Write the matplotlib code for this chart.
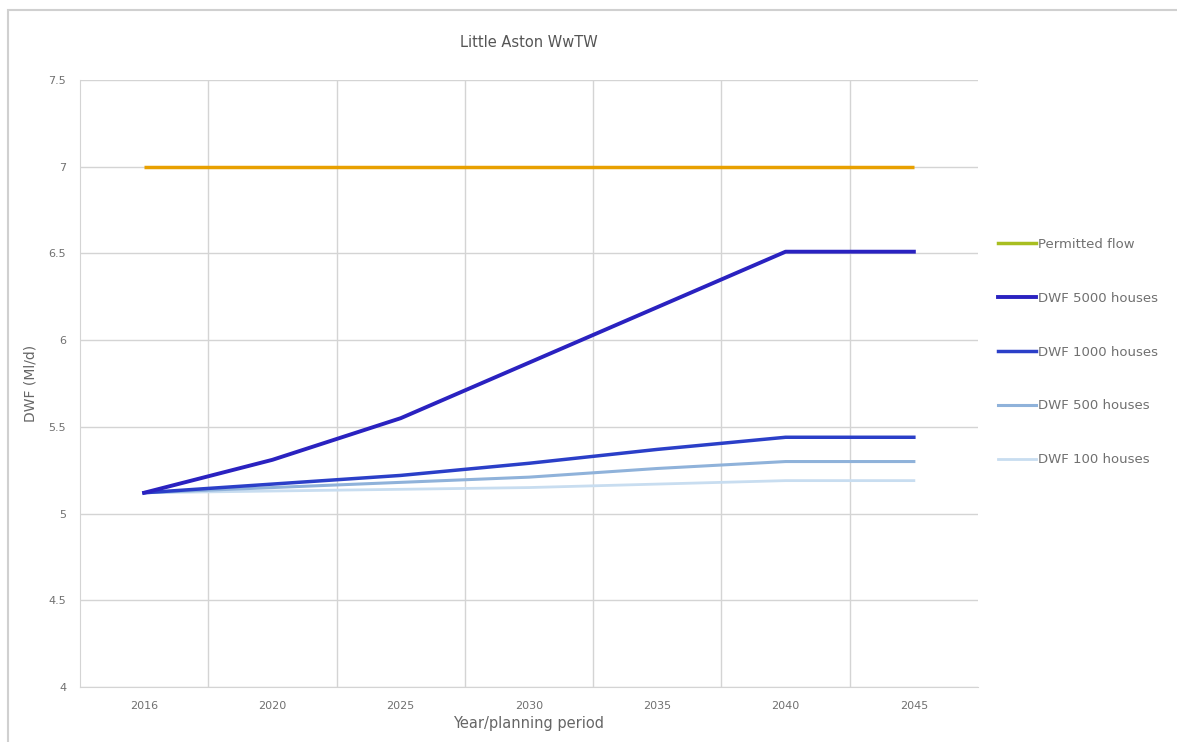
import matplotlib
matplotlib.use("Agg")
import matplotlib.pyplot as plt
from matplotlib.lines import Line2D
from matplotlib.patches import Rectangle
import numpy as np

years = ["2016", "2020", "2025", "2030", "2035", "2040", "2045"]
permitted_flow = [7.0, 7.0, 7.0, 7.0, 7.0, 7.0, 7.0]
dwf_5000 = [5.12, 5.31, 5.55, 5.87, 6.19, 6.51, 6.51]
dwf_1000 = [5.12, 5.17, 5.22, 5.29, 5.37, 5.44, 5.44]
dwf_500 = [5.12, 5.15, 5.18, 5.21, 5.26, 5.30, 5.30]
dwf_100 = [5.12, 5.13, 5.14, 5.15, 5.17, 5.19, 5.19]
y_ticks = [4, 4.5, 5, 5.5, 6, 6.5, 7, 7.5]
y_tick_labels = ["4", "4.5", "5", "5.5", "6", "6.5", "7", "7.5"]

fig = plt.figure(figsize=(11.77, 7.42), dpi=100)
fig.patch.set_facecolor("white")
fig.patches.append(Rectangle((8/1177, -0.01), 1.02, 1 - 10/742 + 0.01, transform=fig.transFigure,
                             fill=False, edgecolor="#d0d0d0", linewidth=1.5))

ax = fig.add_axes([80/1177, 1 - 687/742, (978 - 80)/1177, (687 - 80)/742])
x = np.arange(len(years))

ax.plot(x, permitted_flow, color="#E8A000", linewidth=2.5, solid_capstyle="butt")
ax.plot(x, dwf_100, color="#C8DDF0", linewidth=2.0)
ax.plot(x, dwf_500, color="#8FB2DA", linewidth=2.2)
ax.plot(x, dwf_1000, color="#2B3FC8", linewidth=2.5)
ax.plot(x, dwf_5000, color="#2A22C0", linewidth=2.8)

ax.set_xlim(-0.5, len(years) - 0.5)
ax.set_ylim(4, 7.5)
ax.set_xticks(x)
ax.set_xticklabels(years)
ax.set_xticks(np.arange(0.5, len(years) - 1, 1.0), minor=True)
ax.set_yticks(y_ticks)
ax.set_yticklabels(y_tick_labels)
ax.tick_params(axis="both", which="both", length=0, labelsize=8, labelcolor="#707070", pad=10)
ax.grid(axis="y", which="major", color="#d4d4d4", linewidth=1)
ax.grid(axis="x", which="minor", color="#d4d4d4", linewidth=1)
ax.grid(axis="x", which="major", visible=False)
for s in ["top", "right"]:
    ax.spines[s].set_visible(False)
ax.spines["left"].set_color("#d4d4d4")
ax.spines["bottom"].set_color("#d4d4d4")
ax.set_axisbelow(True)

ax.set_title("Little Aston WwTW", fontsize=10.5, color="#555555", pad=24)
ax.set_xlabel("Year/planning period", fontsize=10.5, color="#666666", labelpad=4)
ax.set_ylabel("DWF (Ml/d)", fontsize=10, color="#666666", labelpad=8)

handles = [
    Line2D([], [], color="#A8BE20", linewidth=2.5),
    Line2D([], [], color="#2A22C0", linewidth=2.8),
    Line2D([], [], color="#2B3FC8", linewidth=2.5),
    Line2D([], [], color="#8FB2DA", linewidth=2.2),
    Line2D([], [], color="#C8DDF0", linewidth=2.0),
]
labels = ["Permitted flow", "DWF 5000 houses", "DWF 1000 houses", "DWF 500 houses", "DWF 100 houses"]
leg = fig.legend(handles, labels, loc="center left", bbox_to_anchor=(998/1177, 1 - 352/742),
                 frameon=False, fontsize=9.5, labelspacing=3.1, handlelength=2.9, handletextpad=0.1,
                 borderaxespad=0, borderpad=0)
for t in leg.get_texts():
    t.set_color("#707070")

fig.savefig("out.png", dpi=100)
